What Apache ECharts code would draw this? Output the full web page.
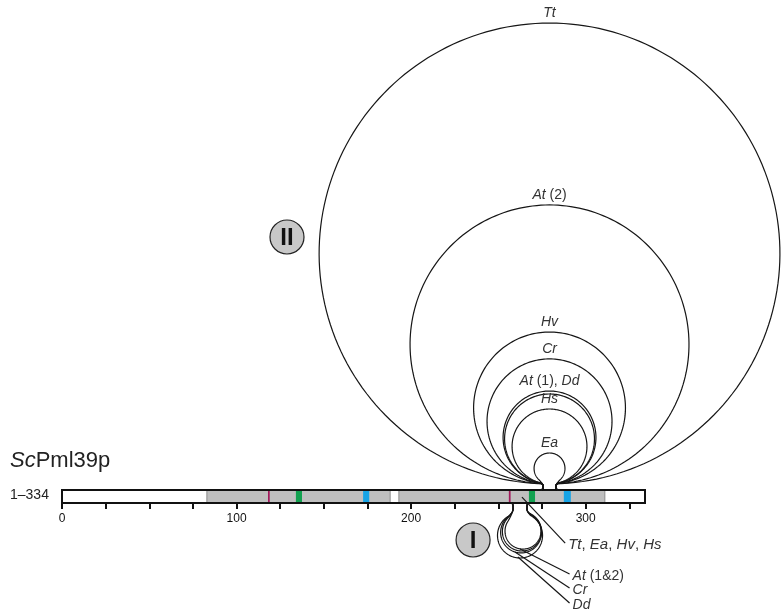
<!DOCTYPE html>
<html>
<head>
<meta charset="utf-8">
<title>ScPml39p loops</title>
<script src="https://cdn.jsdelivr.net/npm/echarts@6/dist/echarts.min.js"></script>
<style>
  html, body { margin: 0; padding: 0; background: #fff }
  #chart { width: 782px; height: 612px }
</style>
</head>
<body>
<div id="chart"></div>
<script>
// protein ScPml39p, residues 1-334
const proteinEnd = 334
const grayStarts = [83, 193]
const grayEnds = [188, 311]
const stripeStarts = [118, 134, 172.5, 256, 267.5, 287.5]
const stripeEnds = [119, 137.5, 176, 257, 271, 291.5]
const stripeColors = ['#a3195b', '#12a150', '#17a4e6', '#a3195b', '#12a150', '#17a4e6']

const tickValues = [0, 25, 50, 75, 100, 125, 150, 175, 200, 225, 250, 275, 300, 325]
const tickLabels = [0, 100, 200, 300]

// loop II (above the bar): heights of loop tops above the bar
const upperNeck = [275.6, 283.0]
const upperCenter = 279.3
const upperNames = ['Tt', 'At (2)', 'Hv', 'Cr', 'At (1), Dd', '', 'Hs', 'Ea']
const upperHeights = [267.5, 163.3, 90.5, 75.1, 56.7, 55.0, 46.4, 21.2]

// loop I (below the bar)
const lowerNeck = [258.4, 266.4]
const lowerNames = ['Tt, Ea, Hv, Hs', 'At (1&2)', 'Cr', 'Dd']
const lowerCenters = [264.1, 263.5, 263.0, 262.4]
const lowerDepths = [26.4, 27.5, 28.6, 31.5]
const lowerRadii = [10.3, 11.2, 11.7, 12.9]
const leaderFromX = [263.5, 262.4, 259.5, 261.2]
const leaderFromY = [3.4, -26.4, -28.1, -30.9]
const labelX = [290.0, 292.5, 292.5, 292.5]
const labelY = [-24.1, -41.8, -49.8, -58.4]

const badgeNames = ['II', 'I']
const badgeX = [128.9, 235.5]
const badgeY = [152.4, -21.2]

// layout
const W = 782, H = 612
const GRID_LEFT = 62, GRID_RIGHT = 137, AXIS_Y = 503
const K = (W - GRID_LEFT - GRID_RIGHT) / proteinEnd
const Y_MAX = AXIS_Y / K
const Y_MIN = -(H - AXIS_Y) / K
const BAR_H = 7.45
const UP_GAP = 3.5, UP_NECK = 2.2, LOW_NECK = 3.5
const LINE = '#161616'
const FONT = '"Liberation Sans", Arial, sans-serif'

function richText(s) {
  // species codes italic, rest upright
  return s.split(/([A-Z][a-z])/).filter(t => t).map(t => /^[A-Z][a-z]$/.test(t) ? '{i|' + t + '}' : '{n|' + t + '}').join('')
}

function textEl(s, x, y, align, valign, size) {
  const fs = size || 14
  return {
    type: 'text', x, y,
    style: {
      text: richText(s), align, verticalAlign: valign, textAlign: align, textVerticalAlign: valign,
      fontSize: fs, fontFamily: FONT, fill: '#333',
      rich: {
        i: { fontStyle: 'italic', fontSize: fs, fontFamily: FONT, fill: '#333' },
        n: { fontStyle: 'normal', fontSize: fs, fontFamily: FONT, fill: '#333' }
      }
    }
  }
}

function bez(p0, p1, p2, p3, steps, out) {
  for (let s = 1; s <= steps; s++) {
    const t = s / steps, u = 1 - t
    out.push([
      u*u*u*p0[0] + 3*u*u*t*p1[0] + 3*u*t*t*p2[0] + t*t*t*p3[0],
      u*u*u*p0[1] + 3*u*u*t*p1[1] + 3*u*t*t*p2[1] + t*t*t*p3[1]
    ])
  }
}

// loop in local coords: x = residue, y = distance away from the bar surface
function loopLocal(cx, R, b, xL, xR, neck) {
  const f = 1.4, g = 3, h1 = 1.5, h2 = 2
  const cy = b + R
  const pts = [[xL - f, 0]]
  bez([xL - f, 0], [xL - f * 0.45, 0], [xL, f * 0.45], [xL, f], 6, pts)
  pts.push([xL, neck])
  const phL = Math.asin(Math.min((cx - xL + g) / R, 0.97))
  const JL = [cx - R * Math.sin(phL), cy - R * Math.cos(phL)]
  bez([xL, neck], [xL, neck + h1], [JL[0] + Math.cos(phL) * h2, JL[1] - Math.sin(phL) * h2], JL, 14, pts)
  const phR = Math.asin(Math.min((xR - cx + g) / R, 0.97))
  const end = 2 * Math.PI - phR
  const n = 200
  for (let s = 0; s <= n; s++) {
    const a = phL + (end - phL) * s / n
    pts.push([cx - R * Math.sin(a), cy - R * Math.cos(a)])
  }
  const JR = [cx + R * Math.sin(phR), cy - R * Math.cos(phR)]
  bez(JR, [JR[0] - Math.cos(phR) * h2, JR[1] - Math.sin(phR) * h2], [xR, neck + h1], [xR, neck], 14, pts)
  pts.push([xR, f])
  bez([xR, f], [xR, f * 0.45], [xR + f * 0.45, 0], [xR + f, 0], 6, pts)
  return pts
}

function renderBar(params, api) {
  const children = []
  const rect = (x0, x1, fill, stroke, lw) => {
    const p0 = api.coord([x0, BAR_H]), p1 = api.coord([x1, 0])
    return { type: 'rect', shape: { x: p0[0], y: p0[1], width: p1[0] - p0[0], height: p1[1] - p0[1] },
      style: { fill, stroke, lineWidth: lw } }
  }
  children.push(rect(0, proteinEnd, '#fff', null, 0))
  grayStarts.forEach((s, i) => children.push(rect(s, grayEnds[i], '#bfbfbf', '#8c8c8c', 1)))
  stripeStarts.forEach((s, i) => children.push(rect(s, stripeEnds[i], stripeColors[i], null, 0)))
  children.push(rect(0, proteinEnd, 'none', '#111', 2))
  return { type: 'group', children }
}

// residue numbers under the bar, placed through the x scale
function renderTickLabel(params, api) {
  const p = api.coord([tickLabels[params.dataIndex], 0])
  return { type: 'text', x: p[0], y: p[1] + 10,
    style: { text: String(tickLabels[params.dataIndex]), align: 'center', verticalAlign: 'top',
      textAlign: 'center', textVerticalAlign: 'top', fontSize: 12, fontFamily: FONT, fill: '#111' } }
}

function renderUpper(params, api) {
  const i = params.dataIndex
  const R = (upperHeights[i] - UP_GAP) / 2
  const pts = loopLocal(upperCenter, R, UP_GAP, upperNeck[0], upperNeck[1], UP_NECK)
    .map(p => api.coord([p[0], BAR_H + p[1]]))
  const children = [{ type: 'polyline', shape: { points: pts }, style: { fill: 'none', stroke: LINE, lineWidth: 1.2 } }]
  if (upperNames[i]) {
    const top = api.coord([upperCenter, BAR_H + upperHeights[i]])
    children.push(textEl(upperNames[i], top[0], top[1] - 3, 'center', 'bottom'))
  }
  return { type: 'group', children }
}

function renderLower(params, api) {
  const i = params.dataIndex
  const R = lowerRadii[i]
  const pts = loopLocal(lowerCenters[i], R, lowerDepths[i] - 2 * R, lowerNeck[0], lowerNeck[1], LOW_NECK)
    .map(p => api.coord([p[0], -p[1]]))
  const a = api.coord([leaderFromX[i], leaderFromY[i]])
  const lab = api.coord([labelX[i], labelY[i]])
  return { type: 'group', children: [
    { type: 'polyline', shape: { points: pts }, style: { fill: 'none', stroke: LINE, lineWidth: 1.2 } },
    { type: 'line', shape: { x1: a[0], y1: a[1], x2: lab[0] - 3, y2: lab[1] - 2 }, style: { stroke: LINE, lineWidth: 1.2 } },
    textEl(lowerNames[i], lab[0], lab[1], 'left', 'middle', i === 0 ? 15 : 14)
  ] }
}

function renderBadge(params, api) {
  const i = params.dataIndex
  const c = api.coord([badgeX[i], badgeY[i]])
  return { type: 'group', children: [
    { type: 'circle', shape: { cx: c[0], cy: c[1], r: 17 }, style: { fill: '#c8c8c8', stroke: '#222', lineWidth: 1.2 } },
    { type: 'text', x: c[0], y: c[1] + 1, style: { text: badgeNames[i], align: 'center', verticalAlign: 'middle',
      textAlign: 'center', textVerticalAlign: 'middle', fontSize: 24, fontWeight: 'bold', fontFamily: FONT, fill: '#111' } }
  ] }
}

const chart = echarts.init(document.getElementById('chart'))
chart.setOption({
  animation: false,
  backgroundColor: '#fff',
  grid: { left: GRID_LEFT, right: GRID_RIGHT, top: 0, bottom: 0, outerBoundsMode: 'none' },
  xAxis: {
    type: 'value', min: 0, max: proteinEnd,
    axisLine: { show: true, onZero: true, lineStyle: { color: '#111', width: 2 } },
    axisTick: { show: true, customValues: tickValues, length: 6, lineStyle: { color: '#111', width: 2 } },
    axisLabel: { show: false },
    splitLine: { show: false }
  },
  yAxis: { type: 'value', min: Y_MIN, max: Y_MAX, show: false },
  graphic: [
    { type: 'text', left: 10, top: 450, style: { text: '{i|Sc}{n|Pml39p}', fontSize: 22, fontFamily: FONT, fill: '#222',
      rich: { i: { fontStyle: 'italic', fontSize: 22, fontFamily: FONT, fill: '#222' }, n: { fontSize: 22, fontFamily: FONT, fill: '#222' } } } },
    { type: 'text', left: 10, top: 488, style: { text: '1–334', fontSize: 14, fontFamily: FONT, fill: '#222' } }
  ],
  series: [
    { type: 'custom', renderItem: renderBar, data: [[0, 0]], z: 2 },
    { type: 'custom', renderItem: renderTickLabel, data: tickLabels.map(v => [v, 0]), z: 2 },
    { type: 'custom', renderItem: renderUpper, data: upperHeights.map((h, i) => [upperCenter, h]), z: 3 },
    { type: 'custom', renderItem: renderLower, data: lowerDepths.map((d, i) => [lowerCenters[i], -d]), z: 3 },
    { type: 'custom', renderItem: renderBadge, data: badgeX.map((x, i) => [x, badgeY[i]]), z: 4 }
  ]
})
</script>
</body>
</html>
